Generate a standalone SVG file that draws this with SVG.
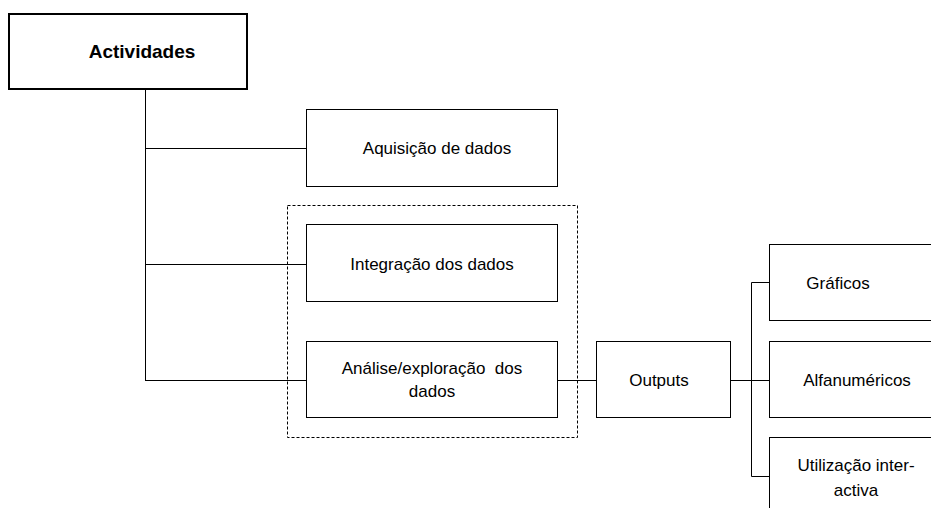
<svg xmlns="http://www.w3.org/2000/svg" width="931" height="508" viewBox="0 0 931 508">
<style>
.box{fill:#fff;stroke:#000;stroke-width:1}
.t{font-family:"Liberation Sans",Arial,sans-serif;font-size:17px;fill:#000;text-anchor:middle;dominant-baseline:central}
.c{fill:none;stroke:#000;stroke-width:1}
</style>
<rect width="931" height="508" fill="#fff"/>
<g id="connectors">
<path class="c" d="M145.5 89 V380.5 M145 148.5 H306 M145 264.5 H306 M145 380.5 H306"/>
<path class="c" d="M557 380.5 H596 M731 380.5 H769 M769 282.5 H751.5 V476.5 H769"/>
</g>
<g id="group-dashed">
<rect x="287.5" y="205.5" width="290" height="232" fill="none" stroke="#000" stroke-width="1" stroke-dasharray="3,2"/>
</g>
<g id="actividades">
<rect x="9" y="14" width="238" height="75" fill="#fff" stroke="#000" stroke-width="2"/>
<text class="t" x="142" y="51" style="font-weight:bold;font-size:19px">Actividades</text>
</g>
<g id="aquisicao">
<rect class="box" x="306.5" y="109.5" width="251" height="77"/>
<text class="t" x="437" y="148">Aquisição de dados</text>
</g>
<g id="integracao">
<rect class="box" x="306.5" y="224.5" width="251" height="77"/>
<text class="t" x="432" y="264">Integração dos dados</text>
</g>
<g id="analise">
<rect class="box" x="306.5" y="341.5" width="251" height="76"/>
<text class="t" x="432" y="368" xml:space="preserve">Análise/exploração  dos</text>
<text class="t" x="432" y="391">dados</text>
</g>
<g id="outputs">
<rect class="box" x="596.5" y="341.5" width="134" height="76"/>
<text class="t" x="659" y="380">Outputs</text>
</g>
<g id="graficos">
<rect class="box" x="769.5" y="244.5" width="170" height="76"/>
<text class="t" x="838" y="283">Gráficos</text>
</g>
<g id="alfanumericos">
<rect class="box" x="769.5" y="341.5" width="170" height="76"/>
<text class="t" x="857" y="380">Alfanuméricos</text>
</g>
<g id="utilizacao">
<rect class="box" x="769.5" y="437.5" width="170" height="80"/>
<text class="t" x="856" y="465">Utilização inter-</text>
<text class="t" x="856" y="490">activa</text>
</g>
</svg>
